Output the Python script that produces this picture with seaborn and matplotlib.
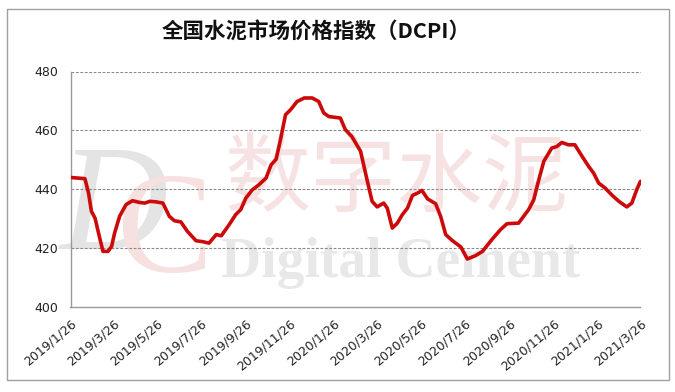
import matplotlib
matplotlib.use("Agg")
import matplotlib.pyplot as plt
import matplotlib.patches as mpatches
import seaborn as sns
import pandas as pd

# ---- data ----
dates = [
    "2019-01-26", "2019-02-15", "2019-02-20", "2019-02-24", "2019-03-01", "2019-03-08",
    "2019-03-12", "2019-03-19", "2019-03-24", "2019-03-28", "2019-04-04", "2019-04-13",
    "2019-04-22", "2019-05-02", "2019-05-09", "2019-05-16", "2019-05-25", "2019-06-03",
    "2019-06-12", "2019-06-19", "2019-06-28", "2019-07-07", "2019-07-19", "2019-07-28",
    "2019-08-06", "2019-08-16", "2019-08-23", "2019-09-03", "2019-09-12", "2019-09-19",
    "2019-09-26", "2019-10-05", "2019-10-14", "2019-10-24", "2019-10-31", "2019-11-07",
    "2019-11-13", "2019-11-20", "2019-11-27", "2019-12-06", "2019-12-16", "2019-12-27",
    "2020-01-05", "2020-01-12", "2020-01-19", "2020-02-04", "2020-02-11", "2020-02-20",
    "2020-03-03", "2020-03-12", "2020-03-19", "2020-03-26", "2020-04-04", "2020-04-09",
    "2020-04-16", "2020-04-23", "2020-04-30", "2020-05-07", "2020-05-14", "2020-05-21",
    "2020-05-27", "2020-06-04", "2020-06-15", "2020-06-22", "2020-06-29", "2020-07-08",
    "2020-07-20", "2020-07-29", "2020-08-09", "2020-08-19", "2020-09-01", "2020-09-13",
    "2020-09-22", "2020-10-08", "2020-10-15", "2020-10-22", "2020-10-29", "2020-11-05",
    "2020-11-12", "2020-11-23", "2020-11-30", "2020-12-07", "2020-12-16", "2020-12-25",
    "2021-01-04", "2021-01-13", "2021-01-20", "2021-01-27", "2021-02-05", "2021-02-14",
    "2021-02-24", "2021-03-07", "2021-03-14", "2021-03-21", "2021-03-26",
]
dcpi = [
    444.0, 443.6, 438.7, 432.5, 430.2, 422.9,
    418.9, 418.9, 420.6, 425.0, 430.8, 434.8,
    436.1, 435.5, 435.3, 435.9, 435.7, 435.3,
    430.8, 429.3, 428.9, 425.7, 422.5, 422.2,
    421.7, 424.6, 424.2, 428.0, 431.4, 433.1,
    437.0, 439.8, 441.5, 443.8, 448.3, 450.2,
    456.8, 465.3, 467.0, 469.8, 471.0, 471.0,
    469.8, 465.9, 464.7, 464.2, 460.2, 457.9,
    452.9, 443.2, 435.9, 434.0, 435.3, 433.6,
    426.8, 428.5, 431.4, 433.6, 437.9, 438.7,
    439.6, 436.7, 435.1, 430.8, 424.6, 422.6,
    420.4, 416.3, 417.4, 418.9, 422.9, 426.3,
    428.3, 428.5, 430.8, 433.1, 436.4, 443.2,
    449.5, 454.0, 454.5, 455.9, 455.1, 455.1,
    451.2, 447.8, 445.5, 442.1, 440.4, 438.1,
    435.9, 434.0, 435.3, 440.0, 442.7,
]
tick_dates = [
    "2019-01-26", "2019-03-26", "2019-05-26", "2019-07-26", "2019-09-26", "2019-11-26",
    "2020-01-26", "2020-03-26", "2020-05-26", "2020-07-26", "2020-09-26", "2020-11-26",
    "2021-01-26", "2021-03-26",
]
tick_labels = [
    "2019/1/26", "2019/3/26", "2019/5/26", "2019/7/26", "2019/9/26", "2019/11/26",
    "2020/1/26", "2020/3/26", "2020/5/26", "2020/7/26", "2020/9/26", "2020/11/26",
    "2021/1/26", "2021/3/26",
]
y_ticks = [400, 420, 440, 460, 480]
title = "全国水泥市场价格指数（DCPI）"

df = pd.DataFrame({"date": pd.to_datetime(dates), "dcpi": dcpi})

sns.set_style("white")
plt.rcParams["font.family"] = ["DejaVu Sans", "Noto Sans CJK SC"]

W, H = 675, 392
fig = plt.figure(figsize=(W / 100, H / 100), dpi=100)
fig.patch.set_facecolor("white")

# outer frame
fig.patches.append(mpatches.Rectangle((7 / W, 1 - 380 / H), (669 - 7) / W, (380 - 9) / H,
                                      transform=fig.transFigure, fill=False,
                                      edgecolor="#a0a0a0", linewidth=1.0, zorder=0))

ax = fig.add_axes([70.5 / W, 1 - 307 / H, (640.5 - 70.5) / W, (307 - 71.5) / H])
ax.set_facecolor("none")

# faint watermark, drawn behind the data
wm = dict(transform=fig.transFigure, clip_on=False, zorder=0)
ax.text(114 / W, 1 - 249 / H, "D", fontsize=108, family="Liberation Serif", style="italic",
        color="#e4e4e4", ha="center", va="baseline", **wm)
ax.text(164 / W, 1 - 272 / H, "C", fontsize=104, family="Liberation Serif",
        color="#f6e0e0", ha="center", va="baseline", **wm)
ax.text(397 / W, 1 - 181 / H, "数字水泥", fontsize=62, family="Noto Sans CJK SC",
        weight="light", color="#f6e2e2", ha="center", va="center", **wm)
ax.text(401 / W, 1 - 277 / H, "Digital Cement",
        fontsize=40, family="Liberation Serif", weight="bold", color="#e8e8e8",
        ha="center", va="baseline", **wm)

sns.lineplot(data=df, x="date", y="dcpi", ax=ax, color="#cc0a0a", linewidth=2.6, zorder=3)

ax.set_xlim(pd.Timestamp("2019-01-26"), pd.Timestamp("2021-03-26"))
ax.set_ylim(400, 480)
ax.set_yticks(y_ticks)
ax.set_xticks(pd.to_datetime(tick_dates))
ax.set_xticklabels(tick_labels, rotation=40, ha="right", rotation_mode="anchor")
ax.set_xlabel("")
ax.set_ylabel("")

for v in y_ticks[1:]:
    ax.axhline(v, color="#8a8a8a", linewidth=0.8, linestyle=(0, (2.5, 1.5)), zorder=1)

for s in ["top", "right"]:
    ax.spines[s].set_visible(False)
for s in ["left", "bottom"]:
    ax.spines[s].set_color("#9a9a9a")
    ax.spines[s].set_linewidth(1.0)

ax.tick_params(axis="both", which="both", direction="out", length=2.5, width=1,
               color="#9a9a9a", labelsize=9, labelcolor="#222222")
ax.tick_params(axis="y", pad=6.5)
ax.tick_params(axis="x", pad=5)

fig.text(316 / W, 1 - 31 / H, title, fontsize=15.5, weight="bold",
         family=["Noto Sans CJK SC", "DejaVu Sans"], color="#111111",
         ha="center", va="center")

fig.savefig("out.png", dpi=100, facecolor="white")
